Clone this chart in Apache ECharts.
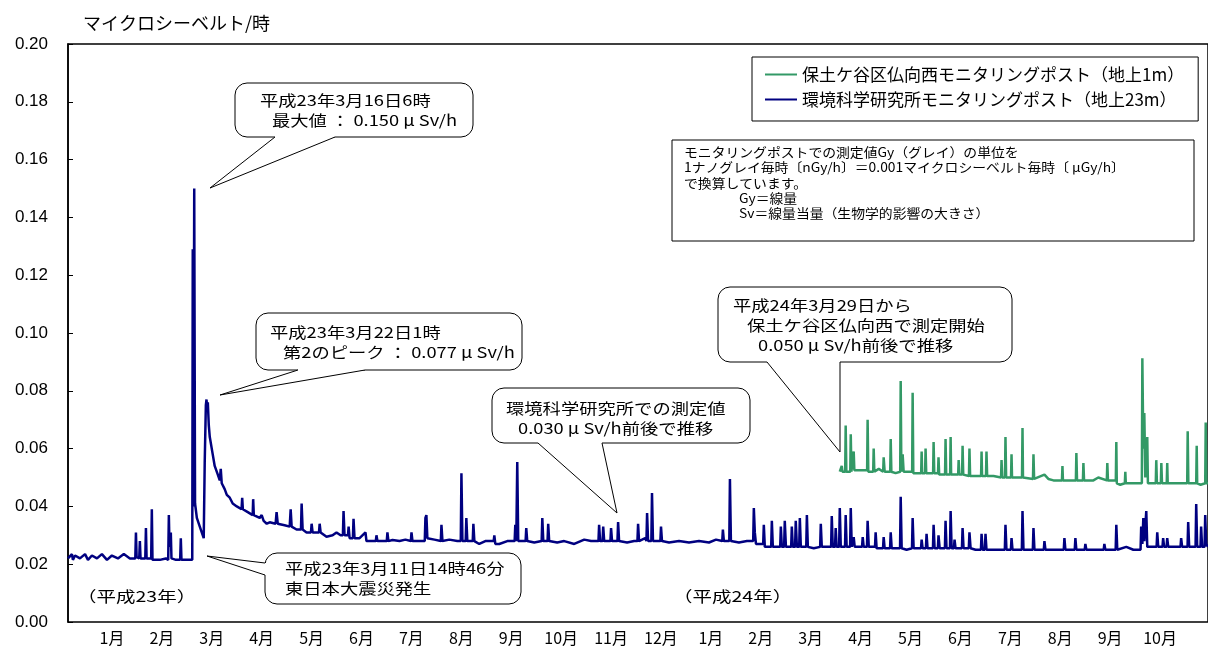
<!DOCTYPE html>
<html><head><meta charset="utf-8">
<script src="https://cdn.jsdelivr.net/npm/echarts@6/dist/echarts.min.js"></script>
<style>html,body{margin:0;padding:0;background:#fff}#c{width:1208px;height:653px}</style>
</head><body><div id="c"></div>
<script>
// ---------- data ----------
const months = ['1月','2月','3月','4月','5月','6月','7月','8月','9月','10月','11月','12月',
                '1月','2月','3月','4月','5月','6月','7月','8月','9月','10月'];
const yearLabels = ['（平成23年）','（平成24年）'];
const seriesNames = ['保土ケ谷区仏向西モニタリングポスト（地上1m）','環境科学研究所モニタリングポスト（地上23m）'];
const yTicks = [0,0.02,0.04,0.06,0.08,0.10,0.12,0.14,0.16,0.18,0.20];
const yAxisName = 'マイクロシーベルト/時';
// [day index, μSv/h]
const kankyo = [
[0,0.022],[2.4,0.0235],[3.0,0.0215],[4.3,0.023],[7.3,0.022],[10.4,0.0235],[12.2,0.0215],[14.6,0.023],[17.7,0.022],[20.7,0.0235],[23.8,0.0215],[26.8,0.023],[30.5,0.022],[34.1,0.0235],[37.8,0.022],
[41.1,0.022],[41.5,0.031],[41.9,0.0225],[43.5,0.022],[43.9,0.028],[44.3,0.022],[47.2,0.022],[47.6,0.0325],[48.0,0.022],[50.8,0.022],[51.2,0.039],[51.6,0.0215],[56.1,0.0215],[59.8,0.022],
[61.2,0.0215],[61.6,0.037],[62.0,0.026],[62.8,0.031],[63.2,0.022],[65.9,0.0215],[68.5,0.0215],[68.9,0.029],[69.3,0.0215],[75.9,0.0215],
[76.2,0.129],[76.6,0.040],[77.1,0.150],[77.6,0.041],[78.7,0.036],[80.5,0.033],[82.9,0.029],[83.5,0.055],[84.2,0.075],[84.6,0.077],[85.1,0.073],[85.4,0.076],[86.0,0.068],[86.6,0.064],
[88.4,0.058],[89.6,0.054],[91.5,0.051],[92.7,0.049],[93.3,0.053],[93.9,0.048],[95.7,0.046],[97.0,0.044],[98.8,0.043],[100.6,0.041],[103.1,0.040],[106.0,0.039],[106.4,0.043],[106.8,0.039],
[109.8,0.038],[112.8,0.037],[113.1,0.0425],[113.5,0.037],[117.1,0.036],[118.3,0.037],[119.5,0.035],[121.4,0.034],[123.2,0.0345],[126.8,0.034],[127.4,0.038],[128.1,0.034],[132.3,0.0335],
[135.4,0.033],[136.0,0.039],[136.6,0.033],[139.6,0.032],[142.3,0.032],[142.7,0.041],[143.3,0.032],[145.7,0.031],[148.4,0.031],[148.8,0.034],[149.4,0.031],[153.3,0.031],[153.7,0.034],[154.3,0.031],
[157.9,0.0295],[161.6,0.030],[164.0,0.031],[166.5,0.030],[167.9,0.030],[168.3,0.0384],[168.9,0.030],[171.0,0.030],[171.4,0.033],[172.0,0.029],[174.0,0.029],[174.4,0.0357],[175.0,0.029],
[178.1,0.029],[181.7,0.031],[182.3,0.028],[188.0,0.028],[188.4,0.030],[189.0,0.028],[194.7,0.028],[195.1,0.031],[195.7,0.028],[198.2,0.0284],[202.5,0.028],[206.1,0.0285],[209.4,0.028],[209.8,0.031],[210.4,0.028],
[214.6,0.028],[217.9,0.028],[218.3,0.036],[218.9,0.037],[219.5,0.029],[223.8,0.0285],[227.7,0.028],[228.1,0.0336],[228.7,0.028],[232.9,0.0285],[237.8,0.028],[239.9,0.028],[240.3,0.0515],[240.9,0.028],
[242.9,0.028],[243.3,0.036],[243.9,0.028],[247.2,0.028],[247.6,0.034],[248.2,0.028],[251.2,0.027],[254.9,0.028],[260.0,0.028],[260.4,0.030],[261.0,0.027],[263.4,0.027],[268.3,0.028],
[272.8,0.028],[273.2,0.0336],[273.8,0.028],[274.0,0.028],[274.4,0.0554],[275.0,0.028],[279.5,0.028],[279.9,0.0325],[280.5,0.028],[284.8,0.0275],[289.3,0.028],[289.7,0.036],[290.3,0.028],
[292.9,0.028],[293.3,0.034],[293.9,0.028],[298.8,0.0275],[303.1,0.028],[309.2,0.027],[315.3,0.0285],[319.5,0.028],[324.0,0.028],[324.4,0.0336],[325.0,0.028],[326.5,0.028],[326.9,0.033],[327.5,0.028],
[331.3,0.028],[331.7,0.0325],[332.3,0.028],[335.6,0.028],[336.0,0.0346],[336.6,0.028],[341.5,0.0275],[345.8,0.028],[347.8,0.028],[348.2,0.034],[348.8,0.028],[352.5,0.029],[353.3,0.028],[353.7,0.0377],[354.3,0.028],
[356.3,0.028],[356.7,0.0446],[357.3,0.028],[361.8,0.028],[362.2,0.033],[362.8,0.028],[367.1,0.0275],[373.2,0.028],[379.3,0.0275],[385.4,0.028],[391.5,0.0275],[395.8,0.0285],[399.6,0.028],[400.0,0.032],[400.6,0.028],
[403.9,0.028],[404.3,0.0495],[404.9,0.028],[409.8,0.0275],[414.7,0.028],[418.5,0.028],[418.9,0.0394],[419.5,0.031],[420.2,0.027],[424.6,0.027],[425.0,0.0336],[425.6,0.026],[429.5,0.026],[429.9,0.035],[430.5,0.026],
[435.0,0.026],[435.4,0.033],[436.0,0.026],[437.4,0.026],[437.8,0.035],[438.5,0.026],[441.7,0.026],[442.1,0.033],[442.7,0.026],[444.1,0.026],[444.5,0.035],[445.2,0.026],[446.6,0.026],[447.0,0.036],[447.6,0.026],
[450.9,0.026],[451.3,0.037],[451.9,0.026],[455.5,0.0255],[459.4,0.026],[459.8,0.034],[460.4,0.026],[466.1,0.026],[466.5,0.0367],[467.1,0.026],[468.5,0.026],[468.9,0.0325],[469.5,0.026],
[471.0,0.026],[471.4,0.0394],[472.0,0.026],[474.6,0.026],[475.0,0.037],[475.6,0.026],[477.7,0.026],[478.1,0.0394],[478.7,0.026],[479.5,0.026],[479.9,0.0294],[480.5,0.026],[485.0,0.026],[485.4,0.0294],[486.0,0.026],
[488.0,0.026],[488.4,0.035],[489.1,0.026],[492.9,0.026],[493.3,0.031],[493.9,0.0255],[497.8,0.0255],[498.2,0.0294],[498.8,0.0255],[502.1,0.0255],[502.5,0.031],[503.1,0.0255],[508.2,0.0255],[508.6,0.0433],[509.2,0.0255],
[512.2,0.025],[515.5,0.0255],[515.9,0.036],[516.5,0.0255],[521.0,0.0255],[521.4,0.0285],[522.0,0.0255],[524.0,0.0255],[524.4,0.0305],[525.0,0.0255],[528.3,0.0255],[528.7,0.0336],[529.3,0.0255],
[531.3,0.0255],[531.7,0.030],[532.4,0.0255],[535.6,0.0255],[536.0,0.035],[536.6,0.0255],[538.7,0.0255],[539.1,0.0384],[539.7,0.0255],[541.1,0.0255],[541.5,0.0285],[542.1,0.0255],
[546.0,0.0255],[546.4,0.0325],[547.0,0.0255],[550.2,0.0255],[550.6,0.031],[551.3,0.0255],[554.3,0.025],[557.6,0.025],[558.0,0.0305],[558.6,0.025],[560.0,0.025],[560.4,0.0305],[561.0,0.025],
[565.3,0.025],[572.2,0.025],[572.6,0.0336],[573.2,0.025],[575.9,0.025],[576.3,0.029],[576.9,0.025],[580.5,0.025],[582.6,0.025],[583.0,0.0384],[583.6,0.025],[589.3,0.025],[589.7,0.0325],[590.3,0.025],
[596.0,0.025],[596.4,0.028],[597.0,0.025],[601.9,0.025],[608.2,0.025],[608.6,0.029],[609.2,0.025],[614.9,0.025],[615.3,0.029],[615.9,0.025],[621.0,0.025],[621.4,0.027],[622.0,0.025],
[627.5,0.025],[632.6,0.025],[633.0,0.027],[633.6,0.025],[639.9,0.025],[640.3,0.0336],[640.9,0.025],[646.4,0.026],[650.7,0.025],[655.1,0.025],[655.5,0.033],[656.2,0.027],[656.8,0.036],[657.4,0.028],
[658.2,0.028],[658.6,0.0384],[659.2,0.026],[661.0,0.026],[664.9,0.026],[665.3,0.031],[665.9,0.026],[668.5,0.026],[668.9,0.029],[669.5,0.026],[671.0,0.026],[671.4,0.029],[672.0,0.026],
[675.7,0.026],[679.5,0.026],[679.9,0.029],[680.5,0.026],[683.8,0.026],[684.2,0.0346],[684.8,0.026],[688.7,0.026],[689.1,0.0408],[689.7,0.026],[691.7,0.026],[692.1,0.033],[692.7,0.026],
[694.2,0.026],[694.6,0.037],[695.2,0.027],[696.3,0.026]
];
const hodogaya = [
[471.4,0.052],[472.2,0.052],[472.6,0.054],[473.0,0.052],[474.7,0.052],[475.0,0.068],[475.4,0.052],[477.8,0.052],[478.1,0.065],[478.5,0.052],[479.6,0.052],[479.9,0.059],[480.3,0.0525],
[484.2,0.0525],[488.1,0.0525],[488.4,0.070],[488.8,0.052],[491.8,0.052],[492.1,0.060],[492.5,0.052],[495.2,0.053],[497.9,0.052],[498.2,0.057],[498.8,0.052],[502.2,0.052],[502.5,0.0633],[502.9,0.052],
[505.5,0.0515],[508.3,0.052],[508.6,0.0834],[509.0,0.052],[509.5,0.052],[509.8,0.058],[510.4,0.052],[515.6,0.052],[515.9,0.0793],[516.3,0.0515],[518.9,0.0515],[521.1,0.0515],[521.4,0.059],[521.7,0.0515],
[523.5,0.0515],[523.8,0.060],[524.2,0.0515],[528.4,0.0515],[528.7,0.0623],[529.1,0.0515],[531.4,0.0515],[531.7,0.057],[532.1,0.051],[535.7,0.051],[536.0,0.0633],[536.4,0.051],
[538.8,0.051],[539.1,0.064],[539.4,0.051],[543.7,0.051],[544.0,0.056],[544.4,0.051],[546.1,0.051],[546.4,0.061],[546.8,0.051],[550.3,0.0505],[550.6,0.060],[551.0,0.0505],[554.9,0.0505],
[557.7,0.0505],[558.0,0.059],[558.3,0.0505],[560.7,0.0505],[561.0,0.059],[561.4,0.0505],[565.3,0.0505],[569.9,0.050],[570.2,0.056],[570.6,0.050],[572.3,0.050],[572.6,0.064],[573.0,0.050],
[576.0,0.050],[576.3,0.058],[576.6,0.050],[582.7,0.050],[583.0,0.0671],[583.3,0.050],[589.4,0.0495],[589.7,0.058],[590.1,0.0495],[596.4,0.051],[598.8,0.0495],[601.9,0.049],
[607.1,0.049],[607.4,0.054],[607.7,0.049],[611.0,0.049],[615.6,0.049],[615.9,0.0585],[616.3,0.049],[619.9,0.049],[620.2,0.055],[620.6,0.049],[626.3,0.049],[629.3,0.050],
[634.5,0.049],[634.8,0.055],[635.2,0.049],[640.0,0.049],[640.3,0.0623],[640.6,0.048],[642.7,0.0475],[645.5,0.048],[645.8,0.052],[646.1,0.048],[650.1,0.048],[655.9,0.048],
[656.2,0.0913],[656.8,0.060],[657.4,0.0723],[658.0,0.050],[658.9,0.050],[659.2,0.064],[659.6,0.048],[664.4,0.048],[664.7,0.056],[665.1,0.048],[667.5,0.048],[667.8,0.055],[668.2,0.048],
[671.1,0.048],[671.4,0.055],[671.7,0.048],[677.2,0.048],[683.6,0.048],[683.9,0.066],[684.3,0.048],[689.1,0.048],[689.4,0.061],[689.7,0.048],[691.8,0.0475],[694.6,0.048],[694.9,0.069],[695.3,0.048],[696.3,0.048]
];
const noteLines = [
 'モニタリングポストでの測定値Gy（グレイ）の単位を',
 '1ナノグレイ毎時〔nGy/h〕＝0.001マイクロシーベルト毎時〔 μGy/h〕',
 'で換算しています。',
 'Gy＝線量',
 'Sv＝線量当量（生物学的影響の大きさ）'
];
const calloutTexts = [
 ['平成23年3月16日6時','最大値 ： 0.150 μ Sv/h'],
 ['平成23年3月22日1時','第2のピーク ： 0.077 μ Sv/h'],
 ['平成23年3月11日14時46分','東日本大震災発生'],
 ['環境科学研究所での測定値','0.030 μ Sv/h前後で推移'],
 ['平成24年3月29日から','保土ケ谷区仏向西で測定開始','0.050 μ Sv/h前後で推移']
];

// ---------- layout (pixels) ----------
const CJK = '"Noto Sans CJK JP"';
const calloutLayout = [
 {box:[235,83,238,54], side:'bottom', base:[275,335], tip:[210,188], lines:[[260,100],[272,120]]},
 {box:[256,313,266,57], side:'bottom', base:[298,365], tip:[220,395], lines:[[270,332],[283,352]]},
 {box:[265,553,256,51], side:'left', base:[563,575], tip:[207,556], lines:[[285,568],[285,588]]},
 {box:[492,388,258,55], side:'bottom', base:[538,602], tip:[617,513], lines:[[506,408],[518,428]]},
 {box:[718,287,294,75], side:'bottom', base:[767,840], tip:[840,452], lines:[[733,305],[747,325],[758,345]]}
];
function txt(x, y, t, size, sx) {
  return {type:'text', x:x, y:y, scaleX:sx, z:110,
    style:{text:t, font:size+'px '+CJK, fill:'#000', align:'left', verticalAlign:'middle',
           textAlign:'left', textVerticalAlign:'middle'}};
}
const graphics = [];
calloutLayout.forEach((c, k) => {
  const [x,y,w,h] = c.box;
  graphics.push({type:'rect', z:100, shape:{x:x,y:y,width:w,height:h,r:12},
    style:{fill:'#fff', stroke:'#000', lineWidth:1}});
  let p1,p2,q1,q2;
  if (c.side === 'bottom') {
    p1=[c.base[0],y+h]; p2=[c.base[1],y+h]; q1=[c.base[0],y+h-2]; q2=[c.base[1],y+h-2];
  } else {
    p1=[x,c.base[0]]; p2=[x,c.base[1]]; q1=[x+2,c.base[0]]; q2=[x+2,c.base[1]];
  }
  graphics.push({type:'polygon', z:101, shape:{points:[q1,p1,c.tip,p2,q2]}, style:{fill:'#fff'}});
  graphics.push({type:'polyline', z:102, shape:{points:[p1,c.tip,p2]}, style:{stroke:'#000', lineWidth:1, fill:null}});
  calloutTexts[k].forEach((t,i) => graphics.push(txt(c.lines[i][0], c.lines[i][1], t, 15, 1.22)));
});
graphics.push({type:'rect', z:100, shape:{x:672,y:140,width:522,height:101}, style:{fill:'#fff', stroke:'#000', lineWidth:1}});
const noteX = [684,684,684,739,739];
noteLines.forEach((t,i) => graphics.push(txt(noteX[i], 152 + i*15.4, t, 12.8, 1.08)));
graphics.push(txt(77, 596, yearLabels[0], 15, 1.3));
graphics.push(txt(673, 596, yearLabels[1], 15, 1.3));

// ---------- chart ----------
const chart = echarts.init(document.getElementById('c'), null, {renderer:'canvas'});
chart.setOption({
  animation:false,
  backgroundColor:'#fff',
  grid:[
    {left:68, right:-2, top:44, bottom:31, show:true, borderColor:'#000', borderWidth:1.5, backgroundColor:'transparent'},
    {left:87, right:23, top:44, bottom:31, show:false}
  ],
  xAxis:[
    {type:'value', gridIndex:0, min:0, max:696.3, show:false},
    {type:'category', gridIndex:1, data:months, boundaryGap:true,
     axisLine:{show:false}, axisTick:{show:false}, splitLine:{show:false},
     axisLabel:{interval:0, fontSize:16, fontFamily:CJK, color:'#000', margin:8}}
  ],
  yAxis:[
    {type:'value', gridIndex:0, min:yTicks[0], max:yTicks[yTicks.length-1], interval:0.02,
     name:yAxisName, nameLocation:'end', nameGap:12,
     nameTextStyle:{fontSize:18, fontFamily:CJK, color:'#000', align:'left', padding:[0,0,0,15]},
     axisLine:{show:true, lineStyle:{color:'#000', width:1.5}},
     axisTick:{show:true, inside:true, length:5, lineStyle:{color:'#000'}},
     splitLine:{show:false},
     axisLabel:{fontSize:17, fontFamily:'"Liberation Sans", Arial', color:'#000', margin:20,
       formatter:v => v.toFixed(2)}},
    {type:'value', gridIndex:1, show:false, min:0, max:1}
  ],
  legend:{
    orient:'vertical', left:752, top:57, padding:[9,14,13,13], itemGap:8,
    itemWidth:32, itemHeight:2, icon:'rect',
    borderColor:'#000', borderWidth:1, backgroundColor:'#fff', z:50,
    textStyle:{fontSize:17, fontFamily:CJK, color:'#000'},
    data:[seriesNames[0], seriesNames[1]]
  },
  series:[
    {name:seriesNames[1], type:'line', xAxisIndex:0, yAxisIndex:0, data:kankyo,
     showSymbol:false, symbol:'none', lineStyle:{color:'#000080', width:2.5}, itemStyle:{color:'#000080'},
     silent:true},
    {name:seriesNames[0], type:'line', xAxisIndex:0, yAxisIndex:0, data:hodogaya,
     showSymbol:false, symbol:'none', lineStyle:{color:'#339966', width:2.5}, itemStyle:{color:'#339966'},
     silent:true}
  ],
  graphic:{elements:graphics}
});
</script></body></html>
